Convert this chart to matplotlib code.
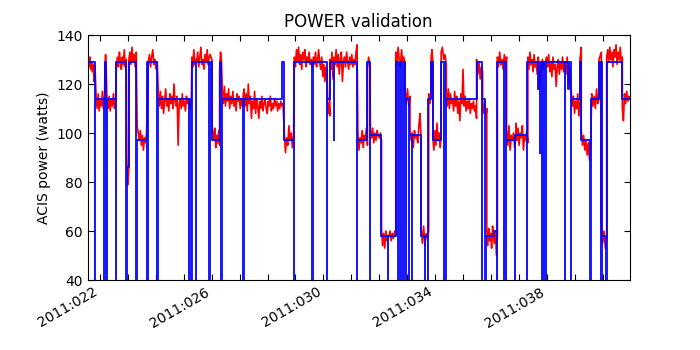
import matplotlib
matplotlib.use("Agg")
import matplotlib.pyplot as plt
from matplotlib.ticker import FixedLocator, MultipleLocator, FuncFormatter
import numpy as np

# ---------------- data (day of year 2011) ----------------
# Model (blue) step series: time at which each power level starts
model_time = [
    21.552, 21.821, 21.836, 22.160, 22.175, 22.220, 22.235, 22.556, 22.571, 22.939,
    22.954, 23.032, 23.297, 23.312, 23.667, 23.682, 23.710, 23.725, 24.050, 24.065,
    25.170, 25.185, 25.270, 25.285, 25.430, 25.445, 25.914, 25.929, 26.007, 26.283,
    26.350, 26.365, 27.133, 27.148, 28.505, 28.600, 28.930, 28.945, 29.600, 29.615,
    30.129, 30.144, 30.230, 30.365, 30.380, 31.204, 31.219, 31.577, 31.659, 31.674,
    32.079, 32.315, 32.330, 32.591, 32.688, 32.700, 32.778, 32.790, 32.867, 32.879,
    32.920, 32.957, 32.969, 33.065, 33.077, 33.154, 33.166, 33.498, 33.620, 33.632,
    33.738, 33.752, 33.857, 33.918, 34.215, 34.300, 34.315, 34.370, 34.385, 35.484,
    35.674, 35.689, 35.792, 35.807, 36.120, 36.201, 36.216, 36.452, 36.467, 36.530,
    36.545, 36.857, 36.872, 37.287, 37.302, 37.670, 37.730, 37.750, 37.765, 37.813,
    37.828, 37.885, 37.900, 37.968, 37.983, 38.638, 38.653, 38.745, 38.790, 38.853,
    38.868, 39.186, 39.233, 39.560, 39.575, 39.867, 39.928, 39.943, 39.970, 39.985,
    40.108, 40.120, 40.128, 40.140, 40.703, 40.978,
]
model_power = [
    129, 0, 114, 0, 129, 0, 114, 0, 129, 0,
    86, 129, 0, 97, 0, 129, 0, 129, 0, 114,
    0, 114, 0, 129, 0, 129, 0, 129, 97, 129,
    0, 114, 0, 114, 129, 97, 0, 129, 0, 129,
    0, 114, 129, 97, 129, 0, 97, 129, 0, 99,
    58, 0, 58, 129, 0, 129, 0, 129, 0, 129,
    114, 0, 114, 0, 99, 0, 99, 58, 0, 58,
    0, 114, 129, 97, 129, 0, 129, 0, 114, 129,
    0, 114, 0, 58, 60, 0, 129, 0, 129, 0,
    97, 0, 99, 0, 129, 118, 129, 92, 129, 0,
    129, 0, 129, 0, 129, 0, 129, 118, 129, 0,
    114, 129, 97, 0, 114, 129, 0, 129, 0, 58,
    0, 58, 0, 129, 114, 114,
]

# Telemetry (red): segments with start / end day and power readings
tel_start = [21.577, 21.860, 22.180, 22.250, 22.590, 22.960, 23.032, 23.330, 23.730, 24.090,
             25.200, 25.290, 25.460, 25.940, 26.007, 26.283, 26.380, 27.160, 28.600, 28.960,
             29.640, 30.155, 30.230, 31.235, 31.577, 31.685, 32.079, 32.345, 32.591, 32.920,
             33.100, 33.498, 33.770, 33.857, 33.918, 34.215, 34.400, 35.484, 35.700, 35.850,
             36.230, 36.560, 36.890, 37.320, 37.990, 38.640, 38.875, 39.186, 39.233, 39.606,
             39.867, 39.950, 40.143, 40.703]
tel_end = [21.821, 22.160, 22.220, 22.556, 22.939, 23.032, 23.297, 23.667, 24.050, 25.170,
           25.270, 25.430, 25.914, 26.007, 26.283, 26.350, 27.133, 28.550, 28.930, 29.600,
           30.129, 30.230, 31.204, 31.577, 31.659, 32.079, 32.315, 32.591, 32.920, 33.100,
           33.498, 33.770, 33.857, 33.918, 34.215, 34.400, 35.484, 35.700, 35.850, 36.230,
           36.560, 36.890, 37.320, 37.990, 38.640, 38.860, 39.186, 39.233, 39.570, 39.867,
           39.950, 40.143, 40.703, 40.978]
tel_power = [
    [130, 127, 131, 126, 129, 125, 128, 121, 127],
    [115, 110, 116, 109, 114, 111, 117, 110, 113],
    [128, 132, 127],
    [113, 110, 115, 109, 114, 111, 116, 110, 113],
    [128, 131, 127, 133, 129, 126, 131, 128, 134, 127, 130],
    [90, 82, 79, 86],
    [130, 133, 128, 135, 129, 132, 127, 133],
    [103, 100, 97, 101, 95, 99, 93, 98, 96, 100],
    [129, 132, 127, 131, 134, 128, 130, 126, 129],
    [116, 111, 117, 110, 115, 108, 113, 118, 111, 114, 109, 116, 112, 115, 110,
     120, 113, 111, 115, 95, 112, 114, 110, 116, 111, 113, 109, 115, 112, 114],
    [113, 110, 114],
    [131, 127, 134, 128, 130],
    [129, 133, 127, 131, 135, 128, 130, 126, 132, 129, 134, 128, 131],
    [132, 130],
    [104, 100, 97, 102, 94, 99, 96, 101, 95],
    [126, 133, 129],
    [117, 112, 119, 111, 116, 113, 118, 110, 115, 112, 117, 111, 114, 109, 116,
     113, 115, 110, 114, 111, 116],
    [118, 111, 116, 109, 120, 112, 115, 106, 113, 110, 117, 108, 114, 111, 106,
     113, 110, 115, 109, 112, 114, 110, 108, 113, 111, 115, 109, 112, 110, 114,
     111, 113, 109, 112, 110, 113, 111, 112],
    [100, 92, 98, 95, 103, 97, 100, 94, 99],
    [131, 127, 134, 129, 135, 128, 132, 126, 133, 130, 134, 127, 131, 129, 133, 128, 130, 127],
    [131, 128, 133, 127, 130, 134, 129, 126, 131, 123, 128, 121, 127, 125],
    [113, 108, 112, 107],
    [130, 126, 133, 122, 131, 128, 134, 127, 132, 124, 130, 133, 121, 129, 131,
     127, 133, 129, 126, 131, 128, 132, 127, 130, 128, 133, 136],
    [100, 93, 98, 96, 101, 94, 99, 97, 102, 95],
    [126, 131, 128],
    [101, 98, 102, 96, 100, 97, 101, 99, 98, 100, 97],
    [61, 54, 59, 53, 60, 56, 58],
    [58, 60, 56, 59, 57, 60, 58],
    [133, 128, 135, 130, 127, 134, 129, 131, 128],
    [117, 112, 118, 111, 115],
    [102, 97, 100, 94, 101, 98, 99, 96, 103, 108, 97],
    [61, 55, 62, 54, 59, 57, 60],
    [116, 112, 117],
    [131, 134, 129],
    [98, 93, 101, 95, 104, 97, 100, 94, 99],
    [133, 135, 130, 132, 128],
    [117, 111, 118, 110, 116, 112, 114, 109, 117, 111, 115, 108, 113, 105, 116,
     112, 126, 111, 115, 109, 113, 110, 114, 108, 112, 110, 113, 109, 111, 106],
    [130, 124, 129, 122, 127, 125],
    [112, 108, 113, 106, 110],
    [60, 54, 61, 56, 59, 53, 62, 57, 55, 60, 50, 58],
    [131, 127, 133, 128, 130, 126, 132, 129, 131],
    [101, 95, 103, 93, 99, 97, 100, 94, 98],
    [104, 97, 102, 95, 100, 98, 103, 93, 99, 97, 101, 96],
    [131, 126, 133, 128, 130, 125, 132, 127, 129, 124, 131, 118, 122, 127, 130, 126, 129, 128, 131],
    [130, 127, 132, 125, 129, 123, 131, 126, 128, 119, 127, 130, 124, 129, 126, 131, 125, 128],
    [129, 124, 131, 120, 127, 118],
    [117, 111, 115, 108, 113, 110, 116, 107, 112],
    [130, 135],
    [101, 95, 99, 93, 97, 91, 96, 89, 94],
    [116, 111, 115, 110, 118, 112, 114],
    [130, 133],
    [63, 55, 60, 53, 58],
    [131, 134, 129, 135, 130, 133, 127, 134, 131, 136, 128, 133, 130, 135, 129, 131],
    [110, 105, 116, 112, 117, 113, 115, 114],
]

tick_days = [22, 26, 30, 34, 38]
title = "POWER validation"
ylabel = "ACIS power (watts)"

# ---------------- plot ----------------
tel_t = np.concatenate([np.linspace(s, e, len(v)) for s, e, v in zip(tel_start, tel_end, tel_power)])
tel_p = np.concatenate([np.asarray(v, dtype=float) for v in tel_power])

fig = plt.figure(figsize=(7, 3.5), dpi=100)
ax = fig.add_axes([0.125, 0.2, 0.775, 0.7])

ax.plot(tel_t, tel_p, color="red", lw=1.2, zorder=2)
ax.step(model_time, model_power, where="post", color="blue", lw=1.4, alpha=0.9, zorder=3)

ax.set_xlim(21.552, 40.978)
ax.set_ylim(40, 140)
ax.xaxis.set_major_locator(FixedLocator(tick_days))
ax.xaxis.set_minor_locator(MultipleLocator(1))
ax.xaxis.set_major_formatter(FuncFormatter(lambda x, pos: "2011:%03d" % int(round(x))))
ax.yaxis.set_major_locator(MultipleLocator(20))
ax.tick_params(which="both", direction="in", top=True, right=True, length=4, width=0.8,
               labelsize=10)
for lab in ax.get_xticklabels():
    lab.set_rotation(30)
    lab.set_ha("right")

ax.set_title(title, fontsize=12)
ax.set_ylabel(ylabel, fontsize=10)

fig.savefig("out.png", dpi=100, facecolor="white")
